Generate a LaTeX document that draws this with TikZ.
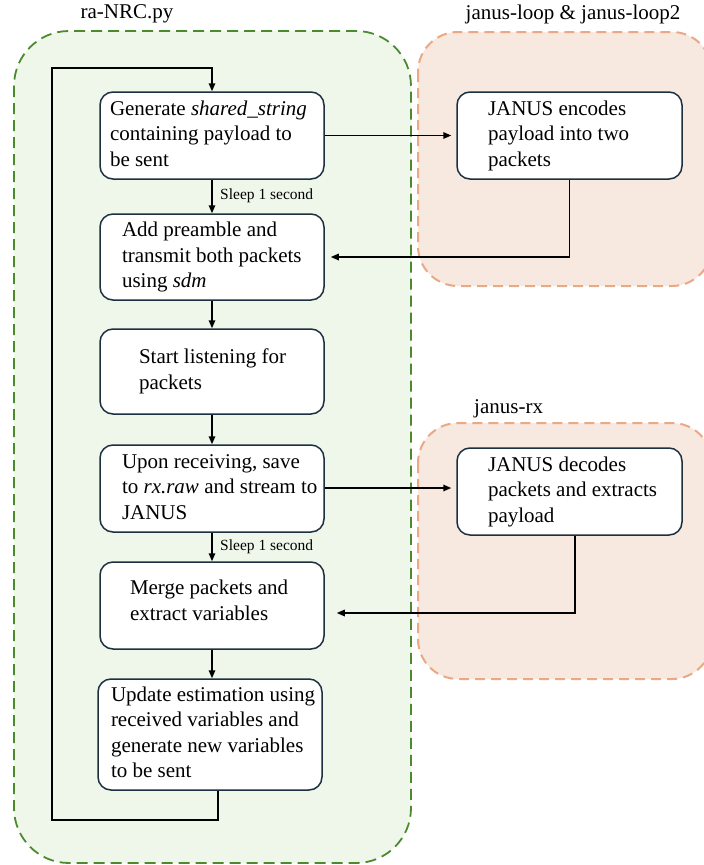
\documentclass[tikz,border=0pt]{standalone}
\usepackage{fontspec}
\setmainfont{Liberation Serif}
\usetikzlibrary{arrows.meta,calc}
\definecolor{grnB}{HTML}{4C8A2E}
\definecolor{grnF}{HTML}{EFF7EA}
\definecolor{orgB}{HTML}{EBA884}
\definecolor{orgF}{HTML}{F7E8E0}
\definecolor{boxB}{HTML}{1C3040}
\newcommand\bt[3][224]{\makebox[#1pt][l]{\hspace{#2pt}\begin{tabular}{@{}l@{}}#3\end{tabular}}}
\tikzset{
  greenreg/.style={draw=grnB, fill=grnF, line width=1.8pt, dash pattern=on 11pt off 6pt, rounded corners=55pt},
  orangereg/.style={draw=orgB, fill=orgF, line width=2pt, dash pattern=on 10pt off 6pt, rounded corners=40pt},
  proc/.style={draw=boxB, fill=white, line width=1.5pt, rounded corners=13pt, inner xsep=0pt, inner ysep=0pt,
    font=\fontsize{21}{25.5}\selectfont},
  conn/.style={draw=black, line width=1.5pt},
  arr/.style={conn, -{Triangle[length=8pt,width=6.5pt]}},
  ttl/.style={font=\fontsize{21}{25}\selectfont, inner sep=0pt},
  sleeplbl/.style={font=\fontsize{15.5}{18}\selectfont, inner sep=0pt, anchor=west}
}
\begin{document}
\begin{tikzpicture}[x=1pt,y=-1pt]
\useasboundingbox (0,0) rectangle (704,865);
% regions
\path[greenreg] (14,31) rectangle (411,863);
\path[orangereg] (418,32) rectangle (712,286);
\path[orangereg] (418,423) rectangle (712,679);
% titles
\node[ttl] (t1) at (127,14) {ra-NRC.py};
\node[ttl] (t2) at (573,14) {janus-loop \& janus-loop2};
\node[ttl, anchor=west] (t3) at (474,409) {janus-rx};
% left boxes
\node[proc, minimum height=87pt] (b1) at (212,135.5) {\bt{10}{Generate \textit{shared\_string}\\containing payload to\\be sent}};
\node[proc, minimum height=86pt] (b2) at (212,257) {\bt{22}{Add preamble and\\transmit both packets\\using \textit{sdm}}};
\node[proc, minimum height=85pt] (b3) at (212,371.5) {\bt{39}{Start listening for\\packets}};
\node[proc, minimum height=87pt] (b4) at (212,488.5) {\bt{22}{Upon receiving, save\\to \textit{rx.raw} and stream to\\JANUS}};
\node[proc, minimum height=87pt] (b5) at (212,605.5) {\bt{30}{Merge packets and\\extract variables\rule[-14pt]{0pt}{1pt}}};
\node[proc, minimum height=111pt] (b6) at (210,734.5) {\bt{13}{Update estimation using\\received variables and\\generate new variables\\to be sent}};
% right boxes
\node[proc, minimum height=87pt] (r1) at (569.5,135.5) {\bt[225]{31}{JANUS encodes\\payload into two\\packets}};
\node[proc, minimum height=87pt] (r2) at (569.5,491.5) {\bt[225]{31}{JANUS decodes\\packets and extracts\\payload}};
% vertical flow
\draw[arr] (b1.south) -- (b2.north);
\draw[arr] (b2.south) -- (b3.north);
\draw[arr] (b3.south) -- (b4.north);
\draw[arr] (b4.south) -- (b5.north);
\draw[arr] (b5.south) -- (b5.south |- b6.north);
\node[sleeplbl] (s1) at (220,196) {Sleep 1 second};
\node[sleeplbl] (s2) at (220,547) {Sleep 1 second};
% cross connections
\draw[arr, shorten >=5pt] (b1.east) -- (r1.west);
\draw[arr, shorten >=5pt] (b4.east |- 0,488) -- (r2.west |- 0,488);
\draw[arr, shorten >=6pt] (r1.south) |- (b2.east);
\coordinate (r2out) at ($(r2.south)+(5.5,0)$);
\coordinate (b5in) at ($(b5.east)+(12,7.5)$);
\draw[arr] (r2out) |- (b5in);
% loop back
\coordinate (lb) at (52,820);
\coordinate (lt) at (52,68);
\draw[arr] ($(b6.south)+(8,0)$) |- (lb) -- (lt) -| (b1.north);
\end{tikzpicture}
\end{document}
